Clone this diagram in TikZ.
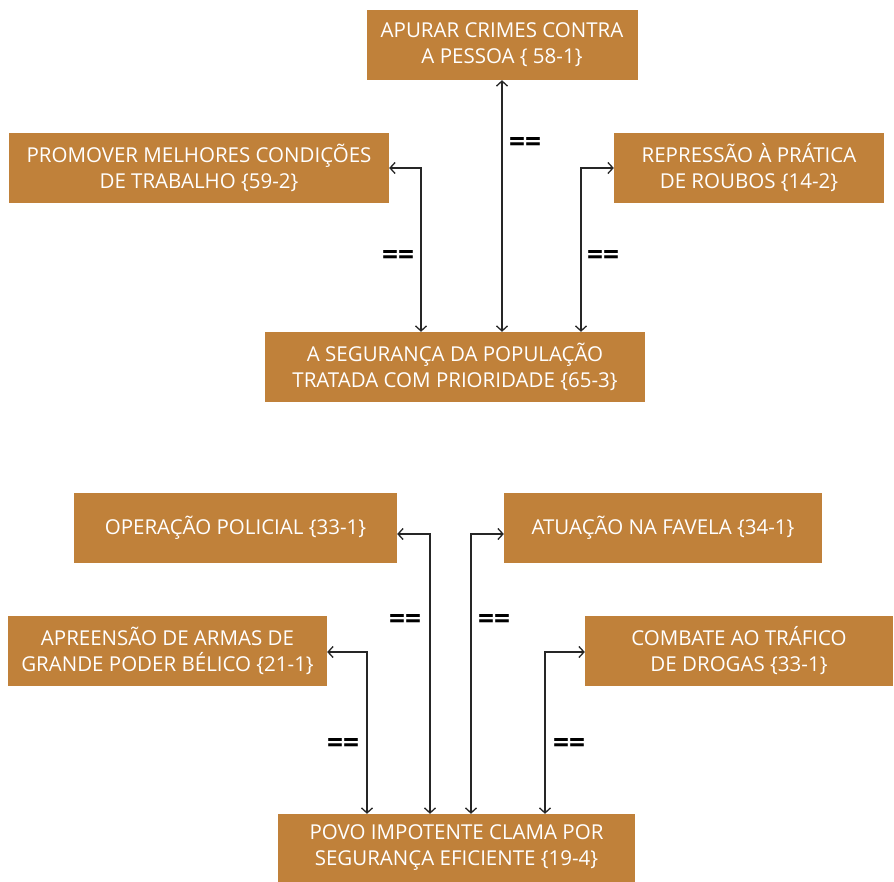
\documentclass[tikz,border=0pt]{standalone}
\usepackage{fontspec}
\setmainfont{Open Sans}
\usetikzlibrary{arrows.meta}
\definecolor{boxc}{HTML}{C0813A}
\definecolor{linec}{HTML}{262626}
\tikzset{
  box/.style={fill=boxc, text=white, align=center, inner sep=0pt, font=\fontsize{20.5}{26}\selectfont},
  conn/.style={draw=linec, line width=1.4pt, {Straight Barb[length=5pt,width=11pt,line width=1.3pt]}-{Straight Barb[length=5pt,width=11pt,line width=1.3pt]}},
  eq/.style={font=\bfseries\fontsize{28}{28}\selectfont, text=black, inner sep=0pt}
}
\begin{document}
\begin{tikzpicture}[x=1pt,y=-1pt]
\useasboundingbox (0,0) rectangle (894,882);
\node[box, minimum width=271pt, minimum height=70pt] (apu) at (502,45) {APURAR CRIMES CONTRA\\A PESSOA \{ 58-1\}};
\node[box, minimum width=380pt, minimum height=70pt] (pro) at (199,168) {PROMOVER MELHORES CONDIÇÕES\\DE TRABALHO \{59-2\}};
\node[box, minimum width=270pt, minimum height=70pt] (rep) at (749,168) {REPRESSÃO À PRÁTICA\\DE ROUBOS \{14-2\}};
\node[box, minimum width=380pt, minimum height=70pt] (seg) at (455,367) {A SEGURANÇA DA POPULAÇÃO\\TRATADA COM PRIORIDADE \{65-3\}};
\node[box, minimum width=323pt, minimum height=70pt] (ope) at (235.5,528) {OPERAÇÃO POLICIAL \{33-1\}};
\node[box, minimum width=318pt, minimum height=70pt] (atu) at (663,528) {ATUAÇÃO NA FAVELA \{34-1\}};
\node[box, minimum width=319pt, minimum height=70pt] (apr) at (167.5,651) {APREENSÃO DE ARMAS DE\\GRANDE PODER BÉLICO \{21-1\}};
\node[box, minimum width=308pt, minimum height=70pt] (com) at (739,651) {COMBATE AO TRÁFICO\\DE DROGAS \{33-1\}};
\node[box, minimum width=357pt, minimum height=68pt] (pov) at (456.5,848) {POVO IMPOTENTE CLAMA POR\\SEGURANÇA EFICIENTE \{19-4\}};

\draw[conn] (apu.south) -- (apu.south |- seg.north);
\draw[conn] (pro.east) -| ([xshift=-34pt]seg.north);
\draw[conn] (rep.west) -| ([xshift=126pt]seg.north);
\draw[conn] ([yshift=-6pt]ope.east) -| ([xshift=-26.5pt]pov.north);
\draw[conn] ([yshift=-6pt]atu.west) -| ([xshift=14.5pt]pov.north);
\draw[conn] ([yshift=-1pt]apr.east) -| ([xshift=-89.5pt]pov.north);
\draw[conn] ([yshift=-1pt]com.west) -| ([xshift=88.5pt]pov.north);

\node[eq] (e1) at (525,145) {==};
\node[eq] (e2) at (398,258) {==};
\node[eq] (e3) at (603,258) {==};
\node[eq] (e4) at (405,621) {==};
\node[eq] (e5) at (494,621) {==};
\node[eq] (e6) at (343,745) {==};
\node[eq] (e7) at (569,745) {==};
\end{tikzpicture}
\end{document}
